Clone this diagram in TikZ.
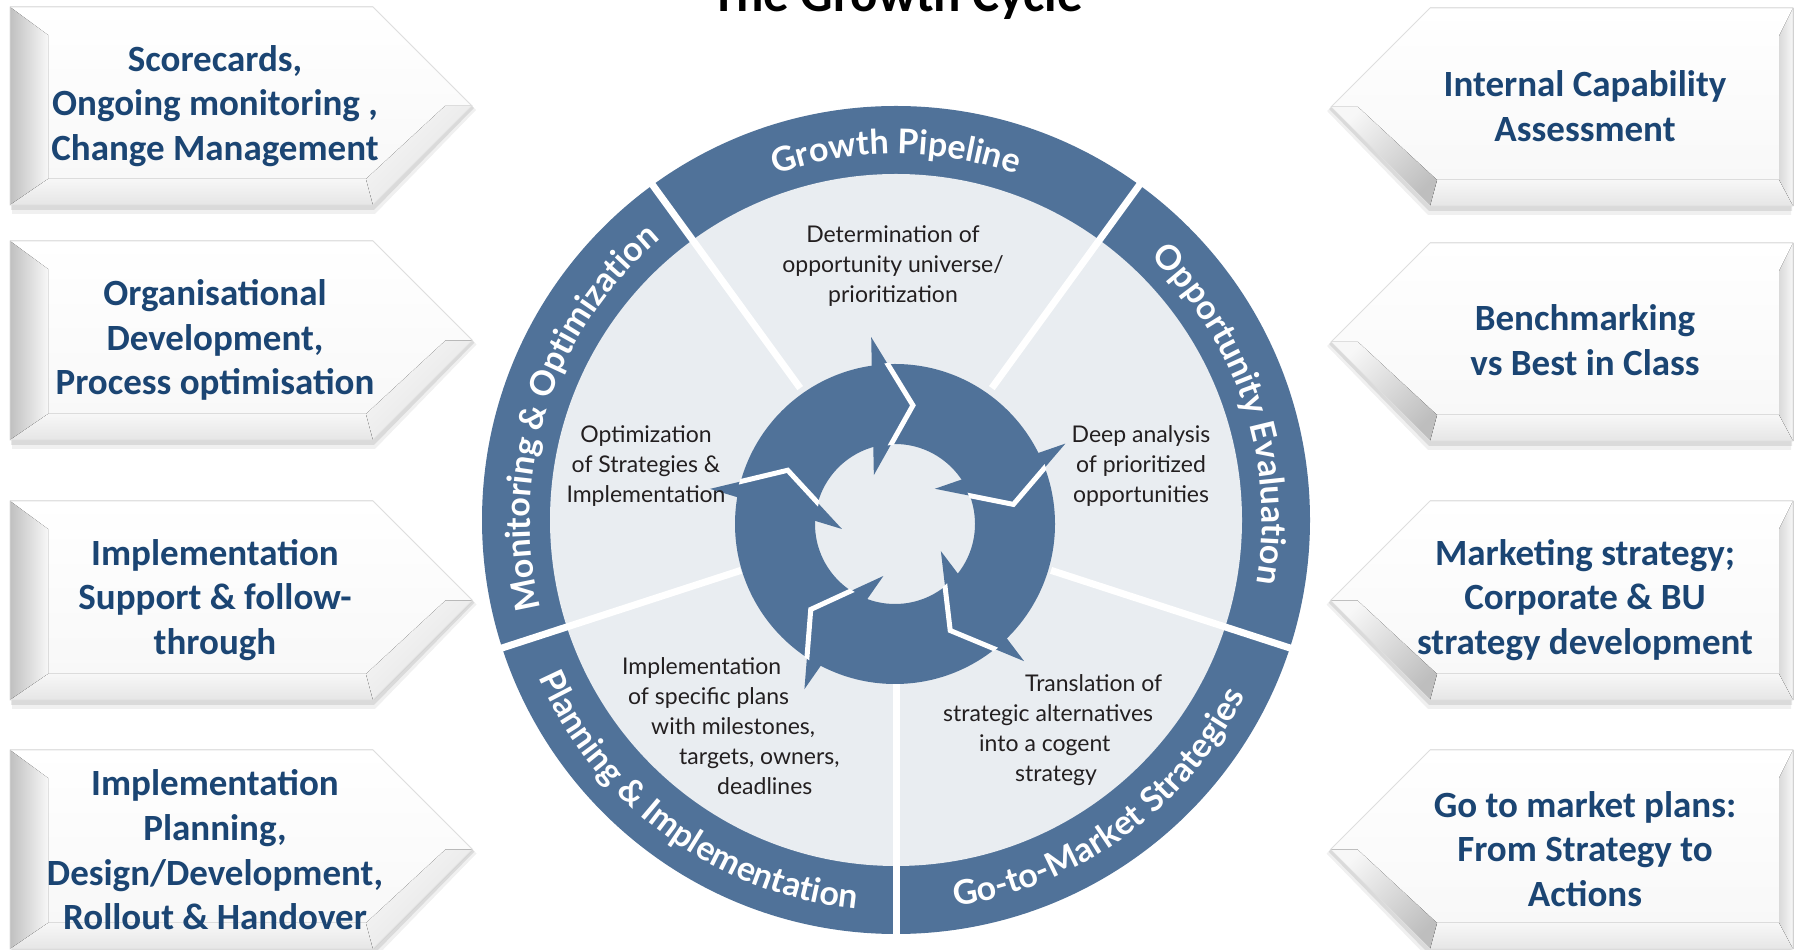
\documentclass[tikz,border=0pt]{standalone}
\usepackage{fontspec}
\setmainfont{Lato}
\newfontfamily\boxfont{Carlito}
\newfontfamily\circfont{Lato}
\usetikzlibrary{calc,decorations.text}
\definecolor{ringblue}{RGB}{80,114,153}
\definecolor{discgray}{RGB}{233,237,241}
\definecolor{boxtext}{RGB}{27,69,115}
\definecolor{innertext}{RGB}{35,31,32}
\definecolor{bevlight}{RGB}{247,247,247}
\definecolor{sidedarkL}{RGB}{192,192,192}
\definecolor{sidedarkR}{RGB}{218,218,218}
\definecolor{diagdarkL}{RGB}{226,226,226}
\definecolor{diagdarkR}{RGB}{190,190,190}
\newcommand\ringfmt{\circfont\fontsize{34}{40}\selectfont\bfseries\color{white}}
% #1 top, #2 bottom, #3 side bevel width, #4 side colour, #5 diagonal colour
\newcommand\boxshape[5]{%
  \pgfmathsetmacro\bxT{#1}%
  \pgfmathsetmacro\bxB{#2}%
  \pgfmathsetmacro\bxM{(\bxT+\bxB)/2}%
  \pgfmathsetmacro\bxP{373+(\bxT-\bxB)/2}%
  \pgfmathsetmacro\bxS{10+#3}%
  \fill[black,opacity=0.06] (12,\bxT-3) -- (375,\bxT-3) -- (\bxP+4,\bxM-4) -- (375,\bxB-9) -- (12,\bxB-9) -- cycle;
  \fill[black,opacity=0.09] (11,\bxT-2) -- (374,\bxT-2) -- (\bxP+2,\bxM-2) -- (374,\bxB-5) -- (11,\bxB-5) -- cycle;
  \fill[top color=white,bottom color=bevlight] (10,\bxT) -- (373,\bxT) -- (\bxP,\bxM) -- (373,\bxB) -- (10,\bxB) -- cycle;
  \fill[left color=#4,right color=bevlight] (10,\bxT) -- (\bxS,\bxT-28) -- (\bxS,\bxB+26) -- (10,\bxB) -- cycle;
  \fill[top color=bevlight,bottom color=black!10] (10,\bxB) -- (\bxS,\bxB+26) -- (366,\bxB+26) -- (373,\bxB) -- cycle;
  \fill[top color=bevlight,bottom color=#5,shading angle=45] (373,\bxB) -- (366,\bxB+26) -- (\bxP-27,\bxM) -- (\bxP,\bxM) -- cycle;
  \draw[black!13,line width=0.8] (10,\bxT) -- (373,\bxT) -- (\bxP,\bxM) -- (373,\bxB) -- (10,\bxB) -- cycle;
}
\begin{document}
\begin{tikzpicture}[x=1pt,y=1pt,
  boxlabel/.style={font=\boxfont\bfseries\fontsize{37}{44.7}\selectfont,text=boxtext,align=center},
  innerlabel/.style={font=\circfont\fontsize{23}{30}\selectfont,text=innertext,align=center,inner sep=0pt}]
\useasboundingbox (0,0) rectangle (1796,950);
\fill[white] (0,0) rectangle (1796,950);

% title
\node[font=\boxfont\bfseries\fontsize{51}{60}\selectfont,anchor=base] (title) at (897,938) {The Growth Cycle};

% left boxes
\boxshape{943}{745}{38}{sidedarkL}{diagdarkL}
\boxshape{709}{510}{38}{sidedarkL}{diagdarkL}
\boxshape{449}{250}{38}{sidedarkL}{diagdarkL}
\boxshape{200}{1}{38}{sidedarkL}{diagdarkL}
% right boxes
\begin{scope}[xshift=1803pt,xscale=-1]
\boxshape{942}{744}{14}{sidedarkR}{diagdarkR}
\boxshape{707}{509}{14}{sidedarkR}{diagdarkR}
\boxshape{449}{250}{14}{sidedarkR}{diagdarkR}
\boxshape{200}{1}{14}{sidedarkR}{diagdarkR}
\end{scope}

\node[boxlabel] (l1) at (215,844) {Scorecards,\\Ongoing monitoring ,\\Change Management};
\node[boxlabel] (l2) at (215,610) {Organisational\\Development,\\Process optimisation};
\node[boxlabel] (l3) at (215,350) {Implementation\\Support \& follow-\\through};
\node[boxlabel] (l4) at (215,100) {Implementation\\Planning,\\Design/Development,\\Rollout \& Handover};
\node[boxlabel] (r1) at (1585,844) {Internal Capability\\Assessment};
\node[boxlabel] (r2) at (1585,610) {Benchmarking\\vs Best in Class};
\node[boxlabel] (r3) at (1585,350) {Marketing strategy;\\Corporate \& BU\\strategy development};
\node[boxlabel] (r4) at (1585,101) {Go to market plans:\\From Strategy to\\Actions};

% big wheel
\coordinate (O) at (896,430);
\fill[ringblue] (O) circle[radius=414];
\fill[discgray] (O) circle[radius=346];
\foreach \a in {-90,-18,54,126,198}{
  \draw[white,line width=7pt] ($(O)+(\a:163)$) -- ($(O)+(\a:420)$);
}

% ring labels
\path[decorate,decoration={text along path,text align=center,text={|\ringfmt|Growth Pipeline}}]
  ($(O)+(130:366)$) arc[start angle=130,end angle=50,radius=366];
\path[decorate,decoration={text along path,text align=center,text={|\ringfmt|Opportunity Evaluation}}]
  ($(O)+(60:366)$) arc[start angle=60,end angle=-24,radius=366];
\path[decorate,decoration={text along path,text align=center,text={|\ringfmt|Monitoring {\&} Optimization}}]
  ($(O)+(204:366)$) arc[start angle=204,end angle=120,radius=366];
\path[decorate,decoration={text along path,text align=center,text={|\ringfmt|Go-to-Market Strategies}}]
  ($(O)+(-96:391)$) arc[start angle=-96,end angle=-12,radius=391];
\path[decorate,decoration={text along path,text align=center,text={|\ringfmt|Planning {\&} Implementation}}]
  ($(O)+(-168:391)$) arc[start angle=-168,end angle=-84,radius=391];

% circular arrows
\coordinate (A) at (895,426);
\fill[ringblue,even odd rule] (A) circle[radius=160] (A) circle[radius=80];
\foreach \k in {0,...,4}{
  \pgfmathsetmacro\angT{81.4-72*\k}
  \pgfmathsetmacro\angB{\angT+19.4}
  \coordinate (hb\k) at ($(A)+(\angB:120)$);
  \coordinate (ht\k) at ($(A)+(\angT:120)$);
  \coordinate (ho\k) at ($(hb\k)!69pt!90:(ht\k)$);
  \coordinate (hi\k) at ($(hb\k)!69pt!-90:(ht\k)$);
  \fill[ringblue] (ho\k) -- (ht\k) -- (hi\k) -- cycle;
}
\begin{scope}
  \clip ($(A)+(0:161)$) arc[start angle=0,end angle=360,radius=161] -- ($(A)+(0:79)$) arc[start angle=360,end angle=0,radius=79] -- cycle;
  \foreach \k in {0,...,4}{
    \draw[white,line width=5pt,line join=miter,miter limit=10] (ho\k) -- (ht\k) -- (hi\k);
  }
\end{scope}

% inner texts
\node[innerlabel] (t1) at (893,684) {Determination of\\opportunity universe/\\prioritization};
\node[innerlabel] (t2) at (1141,484) {Deep analysis\\of prioritized\\opportunities};
\node[innerlabel,align=left,anchor=west] (t3) at (943,220) {\hspace*{82pt}Translation of\\strategic alternatives\\\hspace*{36pt}into a cogent\\\hspace*{72pt}strategy};
\node[innerlabel,align=left,anchor=west] (t4) at (622,224) {Implementation\\\hspace*{6pt}of specific plans\\\hspace*{29pt}with milestones,\\\hspace*{57pt}targets, owners,\\\hspace*{95pt}deadlines};
\node[innerlabel] (t5) at (646,484) {Optimization\\of Strategies \&\\Implementation};
\end{tikzpicture}
\end{document}
